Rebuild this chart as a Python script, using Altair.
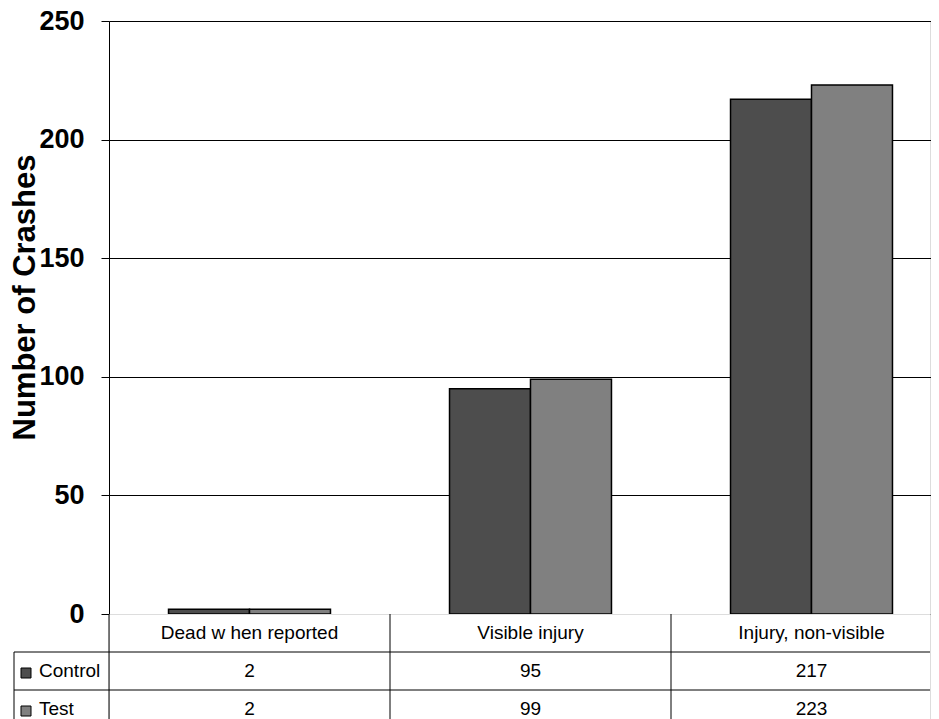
import altair as alt
import pandas as pd

# ---- data ----
categories = ["Dead w hen reported", "Visible injury", "Injury, non-visible"]
series = ["Control", "Test"]
control = [2, 95, 217]
test = [2, 99, 223]
colors = ["#4d4d4d", "#808080"]
y_ticks = [0, 50, 100, 150, 200, 250]

bars_df = pd.DataFrame({
    "category": categories * 2,
    "series": ["Control"] * len(categories) + ["Test"] * len(categories),
    "value": control + test,
})

rows = ["cat"] + series
table_records = []
for i, c in enumerate(categories):
    table_records.append({"category": c, "row": "cat", "text": c})
    table_records.append({"category": c, "row": "Control", "text": str(control[i])})
    table_records.append({"category": c, "row": "Test", "text": str(test[i])})
table_df = pd.DataFrame(table_records)
cat_df = pd.DataFrame({"category": categories})
legend_df = pd.DataFrame({"row": series, "series": series})
hline_df = pd.DataFrame({"row": series})
vline_df = pd.DataFrame({"row": ["Control"]})

# ---- layout / style ----
W = 821            # visible plot width (the original plot runs past the right edge)
BAND_SPAN = 843    # full width of the three category columns
H_PLOT = 593
H_TABLE = 114
LEFT_COL = -95
FONT = "Liberation Sans"

color_scale = alt.Scale(domain=series, range=colors)
x_scale = alt.Scale(domain=categories, range=[0, BAND_SPAN], paddingInner=0, paddingOuter=0)
row_scale = alt.Scale(domain=rows, paddingInner=0, paddingOuter=0)

bars = alt.Chart(bars_df).mark_bar(stroke="black", strokeWidth=1.5).encode(
    x=alt.X("category:N", scale=x_scale, axis=None, sort=categories),
    xOffset=alt.XOffset("series:N", scale=alt.Scale(domain=series, paddingInner=0, paddingOuter=0.735)),
    y=alt.Y(
        "value:Q",
        scale=alt.Scale(domain=[0, 250], nice=False),
        axis=alt.Axis(
            values=y_ticks,
            title="Number of Crashes",
            titleFont=FONT,
            titleFontSize=31,
            titleFontWeight="bold",
            titleColor="black",
            titleAngle=270,
            titleX=-75,
            titleY=276,
            titleBaseline="alphabetic",
            titleAlign="center",
            labelFont=FONT,
            labelFontSize=27,
            labelFontWeight="bold",
            labelColor="black",
            labelPadding=17,
            labelFlush=False,
            tickSize=8,
            tickColor="black",
            domainColor="black",
            grid=True,
            gridColor="black",
            gridOpacity=1,
        ),
    ),
    color=alt.Color("series:N", scale=color_scale, legend=None),
).properties(width=W, height=H_PLOT)

# ---- data table below ----
vlines = alt.Chart(cat_df).mark_rule(color="black").encode(
    x=alt.X("category:N", scale=x_scale, axis=None, bandPosition=0),
    y=alt.value(0),
    y2=alt.value(H_TABLE),
)
hlines = alt.Chart(hline_df).mark_rule(color="black").encode(
    y=alt.Y("row:N", scale=row_scale, axis=None, bandPosition=0),
    x=alt.value(LEFT_COL),
    x2=alt.value(W),
)
left_line = alt.Chart(vline_df).mark_rule(color="black").encode(
    y=alt.Y("row:N", scale=row_scale, axis=None, bandPosition=0),
    y2=alt.value(H_TABLE),
    x=alt.value(LEFT_COL),
)
cells = alt.Chart(table_df).mark_text(
    font=FONT, fontSize=19, color="black", align="center", baseline="middle"
).encode(
    x=alt.X("category:N", scale=x_scale, axis=None),
    y=alt.Y("row:N", scale=row_scale, axis=None),
    text="text:N",
)
keys = alt.Chart(legend_df).mark_square(size=100, stroke="black", strokeWidth=1, opacity=1, yOffset=2).encode(
    x=alt.value(-83),
    y=alt.Y("row:N", scale=row_scale, axis=None),
    color=alt.Color("series:N", scale=color_scale, legend=None),
)
key_labels = alt.Chart(legend_df).mark_text(
    font=FONT, fontSize=19, color="black", align="left", baseline="middle"
).encode(
    x=alt.value(-70),
    y=alt.Y("row:N", scale=row_scale, axis=None),
    text="series:N",
)

table = alt.layer(vlines, hlines, left_line, cells, keys, key_labels).properties(
    width=W, height=H_TABLE
)

chart = alt.vconcat(bars, table, spacing=0, bounds="flush").properties(
    padding={"left": 0, "top": -2, "right": 0, "bottom": 0}
).configure_view(stroke=None).configure(background="white")

chart.save("out.html", embed_options={"renderer": "svg", "actions": False})
